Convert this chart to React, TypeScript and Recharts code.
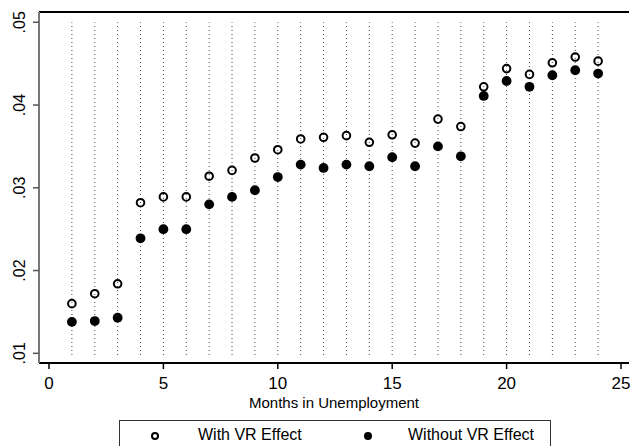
import {
  Legend,
  ReferenceLine,
  Scatter,
  ScatterChart,
  XAxis,
  YAxis,
} from "recharts";

const months = [
  1, 2, 3, 4, 5, 6, 7, 8, 9, 10, 11, 12, 13, 14, 15, 16, 17, 18, 19, 20, 21,
  22, 23, 24,
];

const withVR = [
  0.016, 0.0172, 0.0184, 0.0282, 0.0289, 0.0289, 0.0314, 0.0321, 0.0336,
  0.0346, 0.0359, 0.0361, 0.0363, 0.0355, 0.0364, 0.0354, 0.0383, 0.0374,
  0.0422, 0.0444, 0.0437, 0.0451, 0.0458, 0.0453,
];

const withoutVR = [
  0.0138, 0.0139, 0.0143, 0.0239, 0.025, 0.025, 0.028, 0.0289, 0.0297,
  0.0313, 0.0328, 0.0324, 0.0328, 0.0326, 0.0337, 0.0326, 0.035, 0.0338,
  0.0411, 0.0429, 0.0422, 0.0436, 0.0442, 0.0438,
];

const xTicks = [0, 5, 10, 15, 20, 25];
const yTicks = [0.01, 0.02, 0.03, 0.04, 0.05];

const FONT = "Arial, 'Liberation Sans', Helvetica, sans-serif";
const Y_MIN = 0.00883;
const Y_MAX = 0.05124;

const withData = months.map((m, i) => ({ x: m, y: withVR[i] }));
const withoutData = months.map((m, i) => ({ x: m, y: withoutVR[i] }));

const HollowDot = (props: any) => (
  <circle
    cx={props.cx}
    cy={props.cy}
    r={3.8}
    fill="none"
    stroke="#000"
    strokeWidth={2}
  />
);

const SolidDot = (props: any) => (
  <circle cx={props.cx} cy={props.cy} r={4.9} fill="#000" />
);

const YTick = (props: any) => {
  const { x, y, payload } = props;
  const label = payload.value.toFixed(2).replace(/^0/, "");
  return (
    <text
      x={x}
      y={y}
      transform={`rotate(-90 ${x} ${y})`}
      textAnchor="middle"
      fontSize={16}
      fontFamily={FONT}
      fill="#000"
    >
      {label}
    </text>
  );
};

const LegendBox = () => (
  <div
    style={{
      position: "relative",
      width: 432,
      height: 34,
      border: "1px solid #333",
      boxSizing: "border-box",
      fontFamily: FONT,
      fontSize: 16,
      background: "#fff",
    }}
  >
    <svg
      width={432}
      height={34}
      style={{ position: "absolute", left: 0, top: 0 }}
    >
      <circle cx={35} cy={15} r={3} fill="none" stroke="#000" strokeWidth={2} />
      <circle cx={248} cy={15} r={4} fill="#000" />
    </svg>
    <span style={{ position: "absolute", left: 78, top: 5 }}>
      With VR Effect
    </span>
    <span style={{ position: "absolute", left: 288, top: 5 }}>
      Without VR Effect
    </span>
  </div>
);

export default function App() {
  return (
    <div
      style={{
        position: "absolute",
        left: 0,
        top: 0,
        width: 630,
        height: 446,
        background: "#fff",
        overflow: "hidden",
      }}
    >
      <ScatterChart
        width={630}
        height={446}
        margin={{ top: 12, right: 1, left: 0, bottom: 0 }}
      >
        <XAxis
          type="number"
          dataKey="x"
          domain={[-0.437, 25.35]}
          ticks={xTicks}
          allowDataOverflow
          height={83}
          tickSize={6}
          tickMargin={8}
          tick={{ fontSize: 17, fontFamily: FONT, fill: "#000" }}
          axisLine={{ stroke: "#000", strokeWidth: 2 }}
          tickLine={{ stroke: "#000", strokeWidth: 1.5 }}
          label={{
            value: "Months in Unemployment",
            position: "insideTop",
            offset: 34,
            fontSize: 15,
            fontFamily: FONT,
            fill: "#000",
          }}
        />
        <YAxis
          type="number"
          dataKey="y"
          domain={[Y_MIN, Y_MAX]}
          ticks={yTicks}
          allowDataOverflow
          width={39}
          tickSize={6}
          tickMargin={8}
          tick={<YTick />}
          axisLine={{ stroke: "#777", strokeWidth: 2 }}
          tickLine={{ stroke: "#555", strokeWidth: 1.5 }}
        />
        <ReferenceLine y={Y_MAX} stroke="#000" strokeWidth={2} />
        {months.map((m) => (
          <ReferenceLine
            key={m}
            segment={[
              { x: m, y: 0.0098 },
              { x: m, y: 0.05 },
            ]}
            stroke="#444"
            strokeWidth={1}
            strokeDasharray="1 3"
          />
        ))}
        <Scatter
          name="With VR Effect"
          data={withData}
          shape={HollowDot}
          isAnimationActive={false}
        />
        <Scatter
          name="Without VR Effect"
          data={withoutData}
          shape={SolidDot}
          isAnimationActive={false}
        />
        <Legend
          layout="horizontal"
          verticalAlign="middle"
          align="center"
          content={<LegendBox />}
          wrapperStyle={{ position: "absolute", left: 119, top: 420, width: 432 }}
        />
      </ScatterChart>
    </div>
  );
}
